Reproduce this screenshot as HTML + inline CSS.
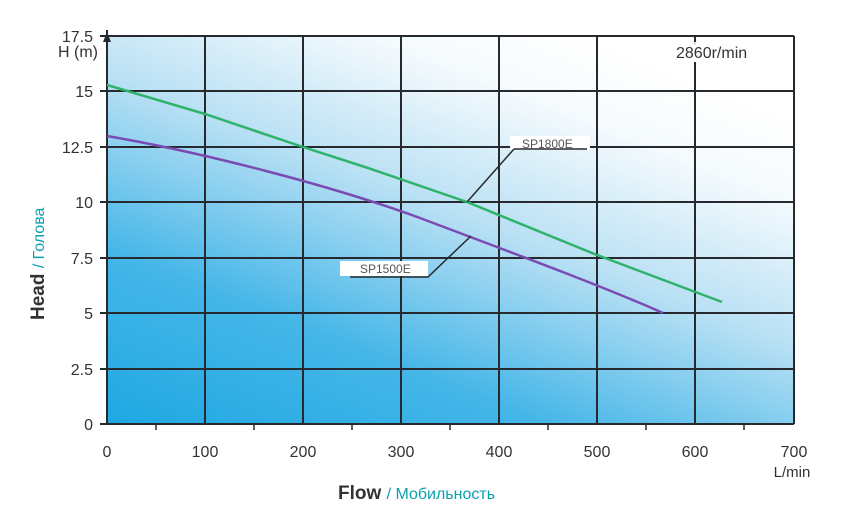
<!DOCTYPE html>
<html><head><meta charset="utf-8"><style>
html,body{margin:0;padding:0;background:#fff;}
svg{display:block;}
text{font-family:"Liberation Sans","DejaVu Sans",sans-serif;}
</style></head><body>
<svg width="844" height="521" viewBox="0 0 844 521" xmlns="http://www.w3.org/2000/svg">
<defs>
<linearGradient id="bg" x1="0" y1="1" x2="0.7" y2="0" gradientUnits="objectBoundingBox">
<stop offset="0" stop-color="#1fa8e2"/>
<stop offset="0.3" stop-color="#45b6e8"/>
<stop offset="0.6" stop-color="#b8e0f4"/>
<stop offset="0.85" stop-color="#f4fafd"/>
<stop offset="1" stop-color="#ffffff"/>
</linearGradient>
</defs>
<rect x="107" y="36" width="687" height="388" fill="url(#bg)"/>
<g stroke="#262a2e" stroke-width="2" fill="none">
<path d="M205 36V424M303 36V424M401 36V424M499 36V424M597 36V424M695 36V45M695 62V424M794 36V424"/>
<path d="M107 36H794M107 91H794M107 147H794M107 202H794M107 258H794M107 313H794M107 369H794"/>
<path d="M107 30V424H794"/>
<path d="M100 36H107M100 91H107M100 147H107M100 202H107M100 258H107M100 313H107M100 369H107M100 424H107"/>
<path d="M156 424V430M254 424V430M352 424V430M450 424V430M548 424V430M646 424V430M744 424V430" stroke-width="1.5"/>
</g>
<polygon points="103,42 107,32 111,42" fill="#262a2e"/>
<polyline points="107,85 205,114 303,147 368,168 467,202 597,255 722,302" fill="none" stroke="#2fb36a" stroke-width="2.5"/>
<path d="M107,136 C200,152 330,185 420,218 C510,252 600,285 663,313" fill="none" stroke="#7a4bb3" stroke-width="2.5"/>
<rect x="668" y="42" width="104" height="20" fill="#fff" opacity="0.85"/>
<text x="676" y="58" font-size="16" fill="#333">2860r/min</text>
<rect x="510" y="136" width="80" height="14" fill="#fff"/>
<text x="522" y="148" font-size="12" fill="#555">SP1800E</text>
<path d="M514 149H587M514 149L467 202" stroke="#262a2e" stroke-width="1.5" fill="none"/>
<rect x="340" y="261" width="88" height="15" fill="#fff"/>
<text x="360" y="273" font-size="12" fill="#555">SP1500E</text>
<path d="M350 277H428L471 236" stroke="#262a2e" stroke-width="1.5" fill="none"/>
<g font-size="16" fill="#333" text-anchor="end">
<text x="93" y="42">17.5</text>
<text x="98" y="57">H (m)</text>
<text x="93" y="97">15</text>
<text x="93" y="153">12.5</text>
<text x="93" y="208">10</text>
<text x="93" y="264">7.5</text>
<text x="93" y="319">5</text>
<text x="93" y="375">2.5</text>
<text x="93" y="430">0</text>
</g>
<g font-size="16" fill="#333" text-anchor="middle">
<text x="107" y="457">0</text>
<text x="205" y="457">100</text>
<text x="303" y="457">200</text>
<text x="401" y="457">300</text>
<text x="499" y="457">400</text>
<text x="597" y="457">500</text>
<text x="695" y="457">600</text>
<text x="794" y="457">700</text>
<text x="792" y="477" font-size="15">L/min</text>
</g>
<text x="338" y="499" font-size="19" fill="#333" font-weight="bold">Flow <tspan fill="#0aa0b0" font-size="16" font-weight="normal">/ Мобильность</tspan></text>
<text transform="translate(44,320) rotate(-90)" font-size="19" fill="#333" font-weight="bold">Head <tspan fill="#0aa0b0" font-size="16" font-weight="normal">/ Голова</tspan></text>
</svg>
</body></html>
